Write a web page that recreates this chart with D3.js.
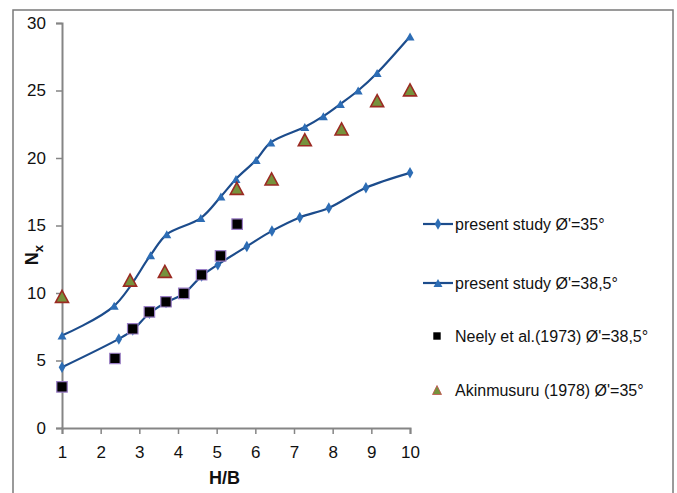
<!DOCTYPE html>
<html>
<head>
<meta charset="utf-8">
<script src="https://cdn.jsdelivr.net/npm/d3@7"></script>
<style>
  body { margin: 0; background: #fff; }
  text { font-family: "Liberation Sans Narrow", "Liberation Sans", sans-serif; fill: #111; }
</style>
</head>
<body>
<div id="chart"></div>
<script>
// present study, phi' = 35 (diamonds)
var hb35 = [1, 2.47, 2.83, 3.26, 3.69, 4.15, 4.61, 5.03, 5.78, 6.43, 7.15, 7.9, 8.86, 10];
var nx35 = [4.5, 6.6, 7.25, 8.5, 9.3, 9.95, 11.25, 12.1, 13.45, 14.6, 15.6, 16.3, 17.8, 18.9];

// present study, phi' = 38.5 (triangles)
var hb385 = [1, 2.35, 3.29, 3.71, 4.59, 5.11, 5.5, 6.02, 6.4, 7.28, 7.76, 8.2, 8.66, 9.15, 10];
var nx385 = [6.85, 9.05, 12.8, 14.35, 15.55, 17.15, 18.45, 19.85, 21.15, 22.3, 23.1, 24.0, 25.0, 26.3, 29.0];

// Neely et al. (1973)
var hbNeely = [1, 2.37, 2.83, 3.26, 3.69, 4.15, 4.61, 5.1, 5.53];
var nxNeely = [3.05, 5.15, 7.35, 8.6, 9.35, 9.97, 11.35, 12.75, 15.1];

// Akinmusuru (1978)
var hbAkin = [1, 2.76, 3.66, 5.52, 6.42, 7.28, 8.23, 9.15, 10];
var nxAkin = [9.75, 10.95, 11.6, 17.75, 18.45, 21.35, 22.15, 24.25, 25.05];

var xTicks = [1, 2, 3, 4, 5, 6, 7, 8, 9, 10];
var yTicks = [0, 5, 10, 15, 20, 25, 30];

var legendLabels = [
  "present study \u00D8'=35\u00B0",
  "present study \u00D8'=38,5\u00B0",
  "Neely et al.(1973) \u00D8'=38,5\u00B0",
  "Akinmusuru (1978) \u00D8'=35\u00B0"
];

var W = 677, H = 493;
var margin = {top: 23, right: 267, bottom: 65, left: 62};
var width = W - margin.left - margin.right;
var height = H - margin.top - margin.bottom;

var svg = d3.select("#chart").append("svg")
  .attr("width", W)
  .attr("height", H);

// outer frame
svg.append("rect")
  .attr("x", 13).attr("y", 10)
  .attr("width", 660).attr("height", 490)
  .attr("fill", "none")
  .attr("stroke", "#7a7a7a")
  .attr("stroke-width", 1.5);

var g = svg.append("g")
  .attr("transform", "translate(" + margin.left + "," + margin.top + ")");

var x = d3.scaleLinear().domain([1, 10]).range([0, width]);
var y = d3.scaleLinear().domain([0, 30]).range([height, 0]);

var lineColor = "#1c4c8c";
var markColor = "#2d6db5";

// axes
var xAxis = g.append("g")
  .attr("transform", "translate(0," + height + ")")
  .call(d3.axisBottom(x).tickValues(xTicks).tickSize(6).tickPadding(12).tickFormat(d3.format("d")));

var yAxis = g.append("g")
  .call(d3.axisLeft(y).tickValues(yTicks).tickSize(6).tickPadding(10));

[xAxis, yAxis].forEach(function(a) {
  a.select(".domain").attr("stroke", "#858585").attr("stroke-width", 2);
  a.selectAll(".tick line").attr("stroke", "#858585").attr("stroke-width", 1.5);
  a.selectAll(".tick text")
    .style("font-family", "'Liberation Sans Narrow', 'Liberation Sans', sans-serif")
    .style("font-size", "17px")
    .attr("fill", "#111");
});

// axis labels
g.append("text")
  .attr("x", x(5.2))
  .attr("y", height + 56)
  .attr("text-anchor", "middle")
  .style("font-size", "18px")
  .style("font-weight", "bold")
  .text("H/B");

var ylab = g.append("text")
  .attr("transform", "translate(" + (-24) + "," + (y(12.8)) + ") rotate(-90)")
  .attr("text-anchor", "middle")
  .style("font-size", "18px")
  .style("font-weight", "bold");
ylab.append("tspan").text("N");
ylab.append("tspan").attr("dy", 5).style("font-size", "13px").text("x");

// lines
var curve = d3.curveCatmullRom.alpha(0.5);

function drawLine(xs, ys) {
  var pts = xs.map(function(d, i) { return [d, ys[i]]; });
  g.append("path")
    .datum(pts)
    .attr("fill", "none")
    .attr("stroke", lineColor)
    .attr("stroke-width", 2.2)
    .attr("d", d3.line()
      .x(function(d) { return x(d[0]); })
      .y(function(d) { return y(d[1]); })
      .curve(curve));
  return pts;
}

var p35 = drawLine(hb35, nx35);
var p385 = drawLine(hb385, nx385);

// triangle centred on its bounding box, like Excel markers
function tri(w, h) {
  return "M0," + (-h / 2) + "L" + (w / 2) + "," + (h / 2) + "L" + (-w / 2) + "," + (h / 2) + "Z";
}

var diamond = d3.symbol().type(d3.symbolDiamond).size(38);
var square = d3.symbol().type(d3.symbolSquare).size(110);

g.selectAll(".d35").data(p35).enter().append("path")
  .attr("transform", function(d) { return "translate(" + x(d[0]) + "," + y(d[1]) + ")"; })
  .attr("d", diamond)
  .attr("fill", markColor);

g.selectAll(".t385").data(p385).enter().append("path")
  .attr("transform", function(d) { return "translate(" + x(d[0]) + "," + y(d[1]) + ")"; })
  .attr("d", tri(9, 8))
  .attr("fill", markColor);

var neely = hbNeely.map(function(d, i) { return [d, nxNeely[i]]; });
g.selectAll(".neely").data(neely).enter().append("path")
  .attr("transform", function(d) { return "translate(" + x(d[0]) + "," + y(d[1]) + ")"; })
  .attr("d", square)
  .attr("fill", "#000")
  .attr("stroke", "#9b7fc6")
  .attr("stroke-width", 1.2);

var akin = hbAkin.map(function(d, i) { return [d, nxAkin[i]]; });
g.selectAll(".akin").data(akin).enter().append("path")
  .attr("transform", function(d) { return "translate(" + x(d[0]) + "," + y(d[1]) + ")"; })
  .attr("d", tri(13, 12))
  .attr("fill", "#76923c")
  .attr("stroke", "#9b2a22")
  .attr("stroke-width", 1.6);

// legend
var legendY = [224, 283, 336, 390];
var leg = svg.append("g");
legendLabels.forEach(function(lab, i) {
  var ly = legendY[i];
  if (i < 2) {
    leg.append("line")
      .attr("x1", 423).attr("x2", 453)
      .attr("y1", ly).attr("y2", ly)
      .attr("stroke", lineColor).attr("stroke-width", 2.2);
    leg.append("path")
      .attr("transform", "translate(438," + ly + ")")
      .attr("d", i == 0 ? diamond : tri(9, 8))
      .attr("fill", markColor);
  } else if (i == 2) {
    leg.append("path")
      .attr("transform", "translate(437," + ly + ")")
      .attr("d", d3.symbol().type(d3.symbolSquare).size(55))
      .attr("fill", "#000");
  } else {
    leg.append("path")
      .attr("transform", "translate(437," + ly + ")")
      .attr("d", tri(9, 9))
      .attr("fill", "#76923c")
      .attr("stroke", "#c0504d")
      .attr("stroke-width", 0.8);
  }
  leg.append("text")
    .attr("x", 455)
    .attr("y", ly)
    .attr("dy", "0.35em")
    .style("font-size", "16px")
    .text(lab);
});
</script>
</body>
</html>
